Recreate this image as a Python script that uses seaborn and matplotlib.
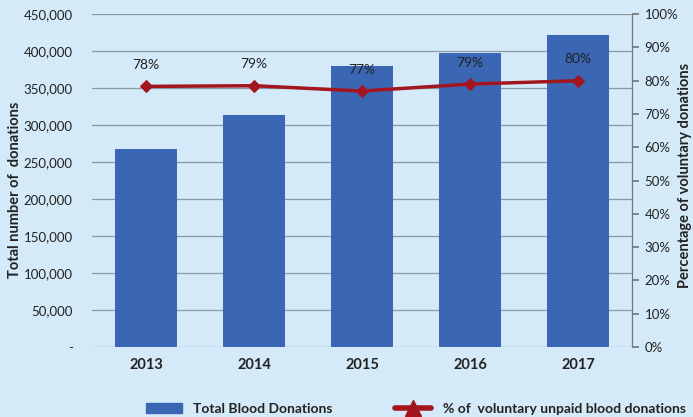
import numpy as np
import pandas as pd
import seaborn as sns
import matplotlib.pyplot as plt
from matplotlib.ticker import FuncFormatter, PercentFormatter
from matplotlib.patches import Patch
from matplotlib.lines import Line2D

# Data
years = ["2013", "2014", "2015", "2016", "2017"]
total_donations = [268000, 313500, 379500, 397500, 422500]
voluntary_pct = [78.3, 78.5, 76.9, 79.0, 80.0]
pct_labels = ["78%", "79%", "77%", "79%", "80%"]

bg = "#D4EAF8"
bar_color = "#3A66B4"
line_color = "#A3151F"
grid_color = "#8A9AA5"

sns.set_theme(style="white")
plt.rcParams["font.family"] = ["Lato", "DejaVu Sans"]

df = pd.DataFrame({"Year": years, "Total": total_donations, "Pct": voluntary_pct})

fig = plt.figure(figsize=(6.93, 4.17), dpi=100, facecolor=bg)
ax = fig.add_axes([0.133, 0.168, 0.779, 0.798])
ax.set_facecolor(bg)

sns.barplot(data=df, x="Year", y="Total", color=bar_color, width=0.57,
            saturation=1, ax=ax, zorder=3, edgecolor=bar_color, linewidth=0)
ax.set_ylim(0, 450000)
ax.set_yticks(np.arange(0, 450001, 50000))
ax.yaxis.set_major_formatter(FuncFormatter(lambda v, p: "-" if v == 0 else f"{int(v):,}"))
ax.grid(axis="y", color=grid_color, linewidth=0.9, zorder=0)
ax.set_axisbelow(True)
ax.set_xlabel("")
ax.set_ylabel("")
ax.tick_params(axis="y", labelsize=9.5, colors="#222222", length=0, pad=14)
ax.tick_params(axis="x", labelsize=10.5, length=0, pad=8)
for t in ax.get_xticklabels():
    t.set_fontweight("bold")
    t.set_color("#222222")
for s in ["top", "left", "bottom", "right"]:
    ax.spines[s].set_visible(False)

ax2 = ax.twinx()
sns.lineplot(x=np.arange(len(years)), y=voluntary_pct, color=line_color, linewidth=2.5,
             marker="D", markersize=6, markeredgecolor=line_color, ax=ax2, zorder=5)
ax2.set_ylim(0, 100)
ax2.set_yticks(np.arange(0, 101, 10))
ax2.yaxis.set_major_formatter(PercentFormatter(decimals=0))
ax2.tick_params(axis="y", labelsize=9.5, colors="#222222", length=5, direction="out",
                color="#777777", pad=4)
ax2.set_ylabel("")
for s in ["top", "left", "bottom"]:
    ax2.spines[s].set_visible(False)
ax2.spines["right"].set_color("#777777")
ax2.spines["right"].set_linewidth(0.9)
for i, lab in enumerate(pct_labels):
    ax2.annotate(lab, (i, voluntary_pct[i]), xytext=(0, 11), textcoords="offset points",
                 ha="center", va="bottom", fontsize=10, color="#222222")
ax.set_xlim(-0.5, len(years) - 0.5)

# Axis titles placed by hand so they stay inside the canvas
fig.text(0.021, 0.545, "Total number of  donations", rotation=90, ha="center", va="center",
         fontsize=10.5, fontweight="bold", color="#222222")
fig.text(0.989, 0.58, "Percentage of voluntary donations", rotation=90, ha="center",
         va="center", fontsize=10.5, fontweight="bold", color="#222222")

# Legend at bottom
handles = [Patch(facecolor=bar_color, edgecolor=bar_color),
           Line2D([0], [0], color=line_color, linewidth=4, marker="^", markersize=11)]
labels = ["Total Blood Donations", "% of  voluntary unpaid blood donations"]
leg = fig.legend(handles, labels, loc="center", ncol=2, bbox_to_anchor=(0.6, 0.02),
                 frameon=False, fontsize=10, columnspacing=4.5, handlelength=2.6)
for t in leg.get_texts():
    t.set_fontweight("bold")
    t.set_color("#222222")

fig.savefig("out.png", dpi=100, facecolor=bg)
